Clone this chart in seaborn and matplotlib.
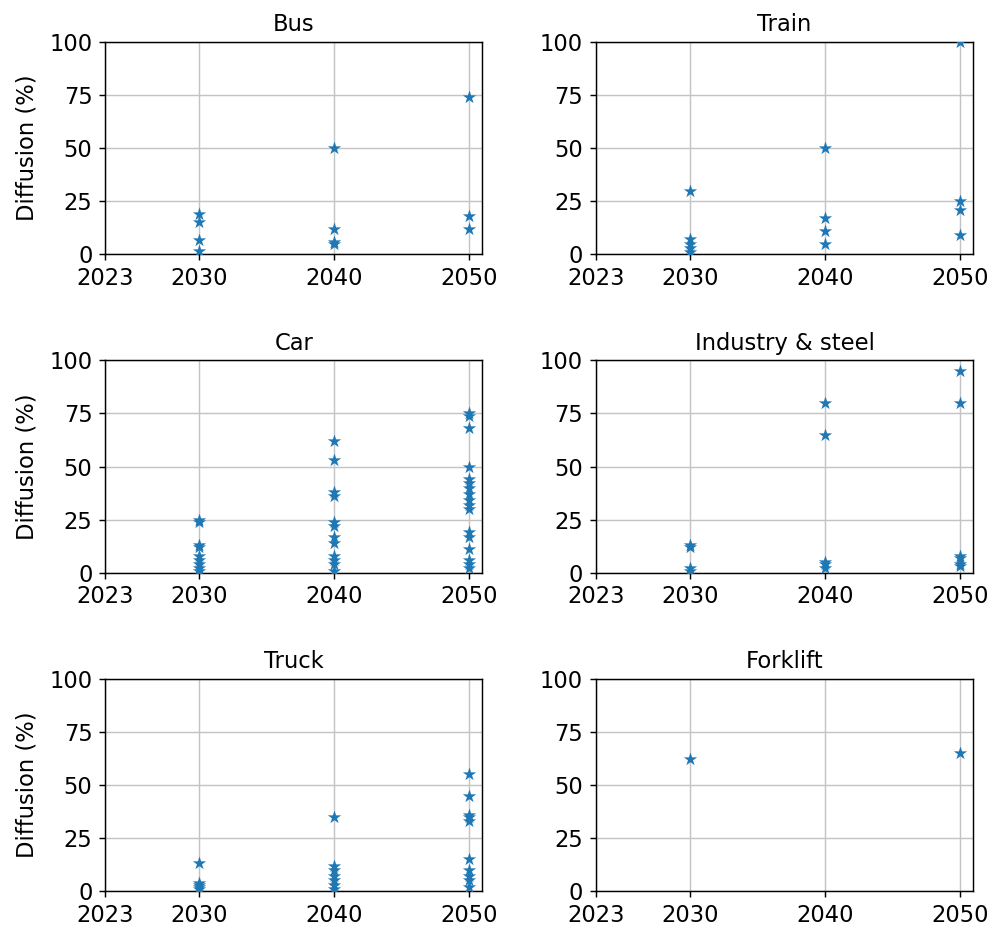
import matplotlib
matplotlib.use("Agg")
import matplotlib.pyplot as plt
import seaborn as sns
import pandas as pd

sectors = ["Bus", "Train", "Car", "Industry & steel", "Truck", "Forklift"]

bus_2030 = [19, 15, 6.5, 1.5]
bus_2040 = [50, 12, 6, 5]
bus_2050 = [74, 18, 12]

train_2030 = [30, 7, 5, 3, 1]
train_2040 = [50, 17, 11, 5]
train_2050 = [100, 25, 21, 9]

car_2030 = [25, 24, 13, 12, 8, 6, 4, 2, 1]
car_2040 = [62, 53, 38, 36, 24, 22, 17, 14, 8, 6, 4, 1]
car_2050 = [75, 74, 68, 50, 44, 42, 40, 37, 34, 32, 30, 19, 17, 11, 6, 4, 2]

industry_2030 = [13, 12, 2, 1]
industry_2040 = [80, 65, 5, 4, 2]
industry_2050 = [95, 80, 8, 7, 4, 3]

truck_2030 = [13, 4, 3, 2, 1]
truck_2040 = [35, 12, 10, 7, 5, 3, 1]
truck_2050 = [55, 45, 36, 35, 33, 15, 10, 7, 5, 2]

forklift_2030 = [62]
forklift_2040 = []
forklift_2050 = [65]

xticks = [2023, 2030, 2040, 2050]
yticks = [0, 25, 50, 75, 100]

series = {
    "Bus": (bus_2030, bus_2040, bus_2050),
    "Train": (train_2030, train_2040, train_2050),
    "Car": (car_2030, car_2040, car_2050),
    "Industry & steel": (industry_2030, industry_2040, industry_2050),
    "Truck": (truck_2030, truck_2040, truck_2050),
    "Forklift": (forklift_2030, forklift_2040, forklift_2050),
}

rows = []
for s, (a, b, c) in series.items():
    for yr, vals in zip([2030, 2040, 2050], (a, b, c)):
        for v in vals:
            rows.append({"sector": s, "year": yr, "value": v})
df = pd.DataFrame(rows)

fig, axes = plt.subplots(3, 2, figsize=(991 / 130, 927 / 130), dpi=130)
fig.subplots_adjust(left=0.106, right=0.982, top=0.9547, bottom=0.0388,
                    wspace=0.30, hspace=0.50)

for i, (ax, s) in enumerate(zip(axes.flat, sectors)):
    sub = df[df["sector"] == s]
    sns.scatterplot(data=sub, x="year", y="value", marker="*", s=60,
                    color="#1f77b4", linewidth=0, ax=ax, zorder=3)
    ax.set_xlim(2023, 2051)
    ax.set_ylim(0, 100)
    ax.set_xticks(xticks)
    ax.set_yticks(yticks)
    ax.tick_params(labelsize=12.5)
    ax.grid(True, color="#c4c4c4", linewidth=0.8)
    ax.set_axisbelow(True)
    ax.set_title(s, fontsize=12.5)
    ax.set_xlabel("")
    if i % 2 == 0:
        ax.set_ylabel("Diffusion (%)", fontsize=12.5, labelpad=6)
    else:
        ax.set_ylabel("")

fig.savefig("out.png", dpi=130)
